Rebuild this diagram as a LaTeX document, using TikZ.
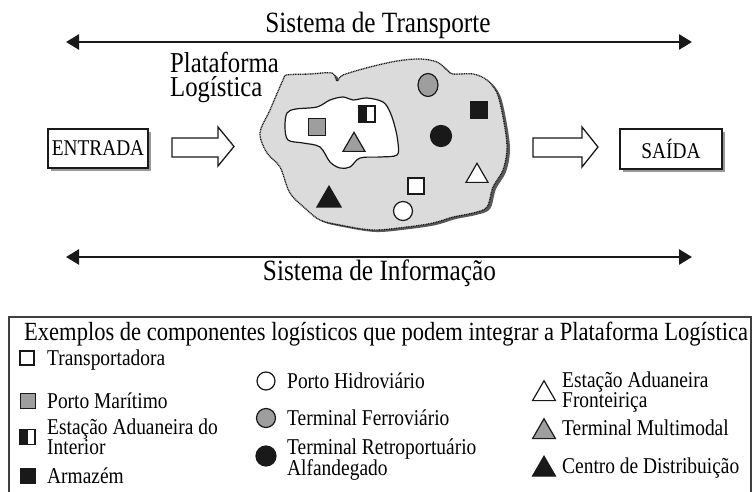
\documentclass[tikz,border=0pt]{standalone}
\usepackage{fontspec}
\setmainfont{Liberation Serif}[FakeStretch=0.86]
\usetikzlibrary{arrows.meta,shapes.geometric}
\definecolor{blobgray}{gray}{0.86}
\definecolor{markgray}{gray}{0.62}
\definecolor{ink}{gray}{0.1}
\newcommand{\twoline}[3]{\vtop{\baselineskip=#3\hbox{#1}\hbox{#2}}}
\begin{document}
\begin{tikzpicture}[x=1pt,y=-1pt,
  sq/.style={rectangle, draw=ink, line width=1.2pt, minimum size=#1, inner sep=0pt},
  circ/.style={circle, draw=ink, line width=1.2pt, minimum size=#1, inner sep=0pt},
  tri/.style={regular polygon, regular polygon sides=3, draw=ink, line width=1.2pt, minimum size=#1, inner sep=0pt},
  halfsq/.style={sq=#1, fill=white, path picture={\fill[ink] (path picture bounding box.south west) rectangle (path picture bounding box.north);}},
  lab/.style={inner sep=0pt, anchor=base west, font=\fontsize{22.6}{19}\selectfont},
  big/.style={inner sep=0pt, anchor=base, font=\fontsize{29.4}{30}\selectfont},
  sysarrow/.style={line width=2.6pt, draw=ink, {Triangle[length=13pt,width=15pt]}-{Triangle[length=13pt,width=15pt]}},
  blockarrow/.style={draw=ink, line width=1.3pt, fill=white, line join=miter},
  iobox/.style={draw=ink, line width=1.6pt, fill=white, inner sep=0pt, font=\fontsize{22.5}{22}\selectfont}
]
\useasboundingbox (0,0) rectangle (752,492);

% --- Transport system
\node[big] (transp) at (378,33) {Sistema de Transporte};
\coordinate (tl) at (66,42);
\coordinate (tr) at (692,42);
\draw[sysarrow] (tl) -- (tr);

% --- Information system
\coordinate (bl) at (66,257);
\coordinate (br) at (692,257);
\draw[sysarrow] (bl) -- (br);
\node[big] (info) at (379.5,280) {Sistema de Informação};

% --- Platform label
\node[inner sep=0pt, anchor=base west, font=\fontsize{28.8}{24}\selectfont] (plat) at (170,73) {\twoline{Plataforma}{Logística}{24pt}};

% --- Platform blob (shadow, fill, dotted border)
\fill[black!65, shift={(3,2)}] plot[smooth cycle, tension=0.55] coordinates {
 (287,75) (310,74) (332,73) (337,81) (343,75) (370,67) (397,61) (420,59) (437,62) (447,70) (453,74) (473,74) (487,80) (497,93) (503,117) (507,147) (503,170) (493,187) (487,207) (473,213) (453,217) (433,223) (407,227) (373,230) (340,225) (320,220) (307,210) (290,193) (280,167) (267,153) (260,133) (270,110) (283,80)};
\draw[fill=blobgray, draw=ink, line width=1.3pt, dash pattern=on 1pt off 0.7pt] plot[smooth cycle, tension=0.55] coordinates {
 (287,75) (310,74) (332,73) (337,81) (343,75) (370,67) (397,61) (420,59) (437,62) (447,70) (453,74) (473,74) (487,80) (497,93) (503,117) (507,147) (503,170) (493,187) (487,207) (473,213) (453,217) (433,223) (407,227) (373,230) (340,225) (320,220) (307,210) (290,193) (280,167) (267,153) (260,133) (270,110) (283,80)};
% inner blob
\draw[fill=white, draw=ink, line width=1.2pt] plot[smooth cycle, tension=0.55] coordinates {
 (287,113) (296,109) (317,107) (330,100) (343,97) (353,100) (367,98) (383,102) (390,112) (395,127) (398,143) (397,155) (380,157) (360,158) (350,167) (340,168) (330,162) (320,147) (303,143) (288,140) (285,127)};

% --- components inside blob
\node[sq=17, fill=markgray] (pm) at (317,127) {};
\node[halfsq=16] (ead) at (367,114) {};
\node[tri=25.4, fill=markgray] (tm) at (354,145) {};
\node[ellipse, draw=ink, line width=1.2pt, fill=markgray, minimum width=20pt, minimum height=23pt, inner sep=0pt] (tf) at (428,85) {};
\node[sq=17, fill=ink] (arm) at (479,110) {};
\node[circ=21, fill=ink] (tra) at (441,136) {};
\node[tri=25.4, fill=white] (eaf) at (477,176) {};
\node[sq=16, fill=white] (tp) at (416,186) {};
\node[circ=19, fill=white] (ph) at (403,211) {};
\node[tri=27.7, fill=ink] (cd) at (329,200) {};

% --- entrada / saida
\fill[black!40] (51,132) rectangle (151,171);
\node[iobox, minimum width=100pt, minimum height=39pt] (entrada) at (98,148.5) {ENTRADA};
\fill[black!40] (623,132) rectangle (725,172);
\node[iobox, minimum width=102pt, minimum height=40pt] (saida) at (671,149) {SAÍDA};

\draw[blockarrow] (172,138) -- (218,138) -- (218,127) -- (234,146.5) -- (218,166) -- (218,157) -- (172,157) -- cycle;
\draw[blockarrow] (533,138) -- (582,138) -- (582,127) -- (598,147) -- (582,167) -- (582,157) -- (533,157) -- cycle;

% --- legend box
\draw[draw=black!75, line width=1.8pt] (9,317) rectangle (751,500);
\node[inner sep=0pt, anchor=base west, font=\fontsize{26.2}{26}\selectfont] (ltitle) at (24,340) {Exemplos de componentes logísticos que podem integrar a Plataforma Logística};

% column 1
\node[sq=14, fill=white] (l1) at (27,358) {};
\node[lab] (t1) at (47,365) {Transportadora};
\node[sq=15, fill=markgray] (l2) at (28,401) {};
\node[lab] (t2) at (47,408) {Porto Marítimo};
\node[halfsq=15] (l3) at (27.5,437) {};
\node[lab] (t3) at (47,434) {\twoline{Estação Aduaneira do}{Interior}{18pt}};
\node[sq=15, fill=ink] (l4) at (28,476) {};
\node[lab] (t4) at (47,483) {Armazém};

% column 2
\node[circ=18, fill=white] (l5) at (266,381) {};
\node[lab] (t5) at (287,388) {Porto Hidroviário};
\node[circ=19, fill=markgray] (l6) at (266,418) {};
\node[lab] (t6) at (287,425) {Terminal Ferroviário};
\node[circ=20, fill=ink] (l7) at (266,456) {};
\node[lab] (t7) at (287,454) {\twoline{Terminal Retroportuário}{Alfandegado}{17pt}};

% column 3
\node[tri=26.5, fill=white] (l8) at (544,394) {};
\node[lab] (t8) at (562,387) {\twoline{Estação Aduaneira}{Fronteiriça}{17pt}};
\node[tri=26.5, fill=markgray] (l9) at (544,432) {};
\node[lab] (t9) at (562,435) {Terminal Multimodal};
\node[tri=26.5, fill=ink] (l10) at (544,469.5) {};
\node[lab] (t10) at (562,473) {Centro de Distribuição};
\end{tikzpicture}
\end{document}
